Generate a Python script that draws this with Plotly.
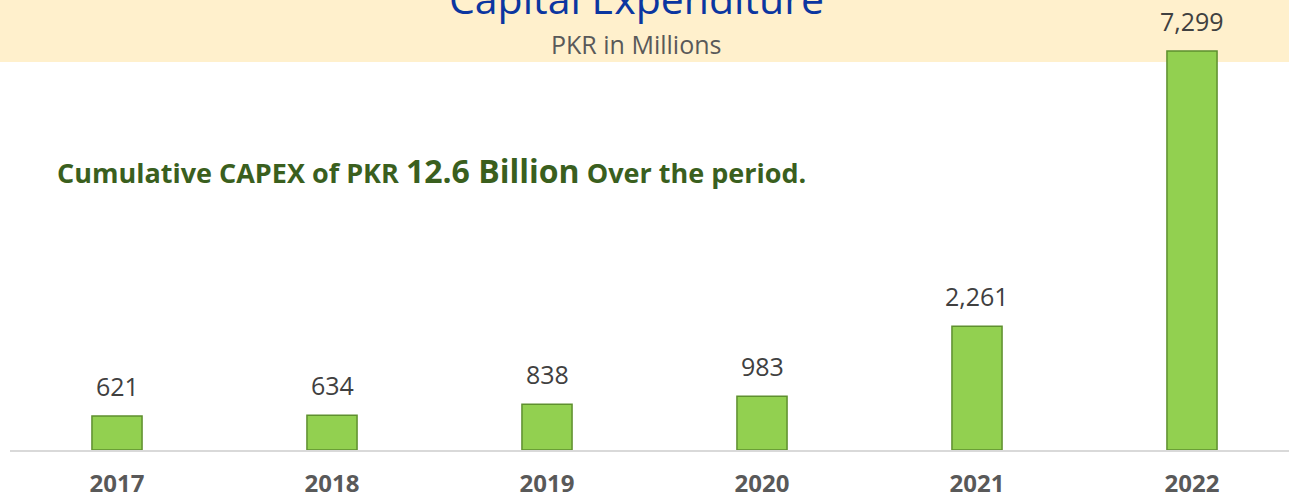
import plotly.graph_objects as go

years = ["2017", "2018", "2019", "2020", "2021", "2022"]
capex = [621, 634, 838, 983, 2261, 7299]
value_labels = ["621", "634", "838", "983", "2,261", "7,299"]

title_text = "Capital Expenditure"
subtitle_text = "PKR in Millions"
note_parts = ["Cumulative CAPEX of PKR ", "12.6 Billion", " Over the period."]

fig = go.Figure()
fig.add_trace(go.Bar(
    x=years, y=capex,
    marker=dict(color="#92D050", line=dict(color="#5E8F2E", width=1.5)),
    hoverinfo="x+y",
))

for i, (v, lab) in enumerate(zip(capex, value_labels)):
    fig.add_annotation(x=i, y=v, text=lab, showarrow=False, yanchor="bottom",
                       yshift=11, font=dict(family="Open Sans", size=25, color="#404040"))

# top band
fig.add_shape(type="rect", xref="paper", yref="paper", x0=-0.01, x1=1.01,
              y0=(450 - 62) / 450, y1=1.05, fillcolor="#FFF0CC", line_width=0, layer="below")

fig.add_annotation(xref="paper", yref="paper", x=(636 - 10) / 1279, y=1 + 2 / 450, yanchor="middle",
                   text=title_text, showarrow=False,
                   font=dict(family="Open Sans", size=41, color="#0B36A0"))
fig.add_annotation(xref="paper", yref="paper", x=(636 - 10) / 1279, y=(450 - 44) / 450,
                   yanchor="middle", text=subtitle_text, showarrow=False,
                   font=dict(family="Open Sans", size=25, color="#595959"))

note = (f"{note_parts[0]}<span style='font-size:32px'>{note_parts[1]}</span>{note_parts[2]}")
fig.add_annotation(xref="paper", yref="paper", x=(55 - 10) / 1279, xanchor="left",
                   y=(450 - 170) / 450, yanchor="middle", text=f"<b>{note}</b>", showarrow=False,
                   font=dict(family="Open Sans", size=27, color="#3A5F1E"))

fig.update_layout(
    width=1289, height=498,
    margin=dict(l=10, r=0, t=0, b=48, autoexpand=False),
    paper_bgcolor="white", plot_bgcolor="white",
    bargap=0.767,
    showlegend=False,
    xaxis=dict(type="category", range=[-107 / 215, (1279 - 107) / 215], showline=True,
               linecolor="#D9D9D9", linewidth=2, ticks="", showgrid=False, zeroline=False,
               automargin=False,
               tickfont=dict(family="Open Sans", size=24, color="#595959", weight="bold"),
               ticklabelstandoff=11),
    yaxis=dict(range=[0, 8230], visible=False, showgrid=False, zeroline=False, automargin=False),
)

fig.write_html("out.html")
